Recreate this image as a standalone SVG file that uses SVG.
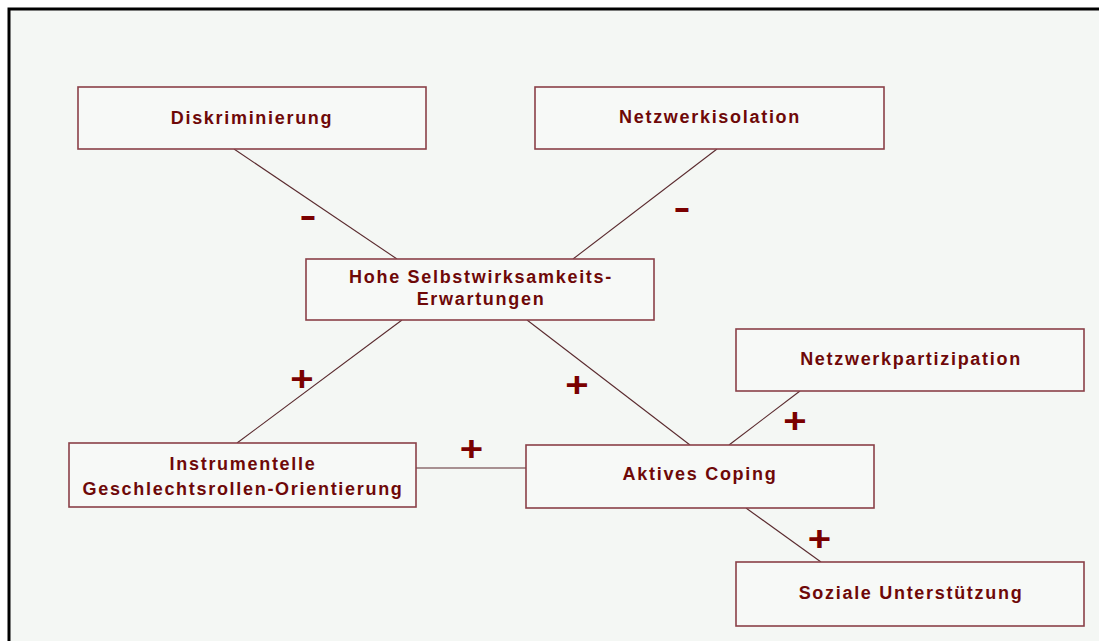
<svg xmlns="http://www.w3.org/2000/svg" width="1099" height="641" viewBox="0 0 1099 641">
<style>
.box{fill:#f7f9f7;stroke:#8a4048;stroke-width:1.6}
.lbl{font-family:"Liberation Sans",Arial,sans-serif;font-weight:bold;font-size:18px;letter-spacing:1.7px;fill:#6e0808;text-anchor:middle}
.sign{font-family:"Liberation Sans",Arial,sans-serif;font-weight:bold;fill:#7a0000;text-anchor:middle}
.conn line{stroke:#5a2a2e;stroke-width:1.1}
</style>
<rect x="0" y="0" width="1099" height="641" fill="#ffffff"/>
<rect x="9" y="9" width="1100" height="640" fill="#f4f7f4" stroke="#000" stroke-width="3"/>
<g id="connectors" class="conn">
<line x1="234" y1="149" x2="397" y2="259"/>
<line x1="717" y1="149" x2="573" y2="259"/>
<line x1="402" y1="320" x2="237" y2="443"/>
<line x1="527" y1="320" x2="690" y2="445"/>
<line x1="800" y1="391" x2="729" y2="445"/>
<line x1="416" y1="468" x2="526" y2="468"/>
<line x1="746" y1="508" x2="821" y2="562"/>
</g>
<g id="signs">
<text class="sign" font-size="51" transform="translate(308,219) scale(1,0.65)" x="0" y="12.9">-</text>
<text class="sign" font-size="51" transform="translate(682,211) scale(1,0.65)" x="0" y="12.9">-</text>
<text class="sign" font-size="40" transform="translate(302,379.5) scale(1,0.87)" x="0" y="13.6">+</text>
<text class="sign" font-size="40" transform="translate(471.5,449) scale(1,0.87)" x="0" y="13.6">+</text>
<text class="sign" font-size="40" transform="translate(577,385.5) scale(1,0.87)" x="0" y="13.6">+</text>
<text class="sign" font-size="40" transform="translate(795,421) scale(1,0.87)" x="0" y="13.6">+</text>
<text class="sign" font-size="40" transform="translate(819.5,539) scale(1,0.87)" x="0" y="13.6">+</text>
</g>
<g id="diskriminierung">
<rect class="box" x="78" y="87" width="348" height="62"/>
<text class="lbl" x="252" y="124">Diskriminierung</text>
</g>
<g id="netzwerkisolation">
<rect class="box" x="535" y="87" width="349" height="62"/>
<text class="lbl" x="710" y="123">Netzwerkisolation</text>
</g>
<g id="selbstwirksamkeit">
<rect class="box" x="306" y="259" width="348" height="61"/>
<text class="lbl" x="481" y="283">Hohe Selbstwirksamkeits-</text>
<text class="lbl" x="481" y="305">Erwartungen</text>
</g>
<g id="netzwerkpartizipation">
<rect class="box" x="736" y="329" width="348" height="62"/>
<text class="lbl" x="911" y="365">Netzwerkpartizipation</text>
</g>
<g id="instrumentelle">
<rect class="box" x="69" y="443" width="347" height="64"/>
<text class="lbl" x="243" y="470">Instrumentelle</text>
<text class="lbl" x="243" y="495">Geschlechtsrollen-Orientierung</text>
</g>
<g id="aktives-coping">
<rect class="box" x="526" y="445" width="348" height="63"/>
<text class="lbl" x="700" y="480">Aktives Coping</text>
</g>
<g id="soziale-unterstuetzung">
<rect class="box" x="736" y="562" width="348" height="64"/>
<text class="lbl" x="911" y="599">Soziale Unterstützung</text>
</g>
</svg>
